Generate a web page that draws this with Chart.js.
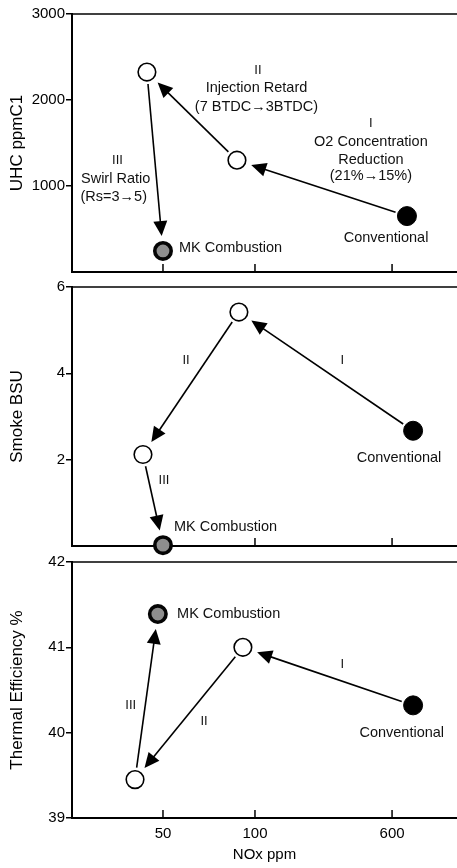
<!DOCTYPE html>
<html><head><meta charset="utf-8">
<script src="https://cdn.jsdelivr.net/npm/chart.js@4.4.1/dist/chart.umd.min.js"></script>
<style>
html,body{margin:0;padding:0;background:#fff;}
#wrap{position:relative;width:457px;height:868px;overflow:hidden;background:#fff;}
canvas{position:absolute;left:0;}
</style></head><body>
<div id="wrap">
<canvas id="c1" width="457" height="290" style="top:0px"></canvas>
<canvas id="c2" width="457" height="300" style="top:265px"></canvas>
<canvas id="c3" width="457" height="328" style="top:540px"></canvas>
</div>
<script>
// ---------- data (order: Conventional, after I, after II, MK Combustion) ----------
const stepNames = ['Conventional', 'I', 'II', 'MK Combustion'];
const noxUHC   = [729, 87.3, 44.3, 50];
const uhcVals  = [650, 1300, 2325, 245];
const noxSmoke = [790, 88.6, 43.0, 50];
const smokeVals = [2.67, 5.42, 2.12, 0.02];
const noxEff   = [790, 91.3, 40.5, 48.1];
const effVals  = [40.32, 41.0, 39.45, 41.39];
const xTickLabels = [50, 100, 600];
const uhcTicks   = [1000, 2000, 3000];
const smokeTicks = [2, 4, 6];
const effTicks   = [39, 40, 41, 42];

// text annotations (x in NOx ppm, y in panel units)
const notesUHC = [
  {t:'II', x:104, y:2349, roman:true},
  {t:'Injection Retard', x:102, y:2140},
  {t:'(7 BTDC\u21923BTDC)', x:102, y:1919},
  {t:'I', x:455, y:1733, roman:true},
  {t:'O2 Concentration', x:455, y:1515},
  {t:'Reduction', x:455, y:1302},
  {t:'(21%\u219215%)', x:455, y:1120},
  {t:'III', x:35.5, y:1302, roman:true},
  {t:'Swirl Ratio', x:35, y:1081},
  {t:'(Rs=3\u21925)', x:34.5, y:876},
  {t:'Conventional', x:555, y:392},
  {t:'MK Combustion', x:56.4, y:276, left:true}
];
const notesSmoke = [
  {t:'II', x:59.5, y:4.31, roman:true},
  {t:'I', x:313, y:4.31, roman:true},
  {t:'Conventional', x:657, y:2.05},
  {t:'III', x:50.4, y:1.51, roman:true},
  {t:'MK Combustion', x:54.3, y:0.45, left:true}
];
const notesEff = [
  {t:'MK Combustion', x:55.6, y:41.39, left:true},
  {t:'I', x:313, y:40.80, roman:true},
  {t:'III', x:39.2, y:40.32, roman:true},
  {t:'II', x:68.1, y:40.13, roman:true},
  {t:'Conventional', x:681, y:40.0}
];

// ---------- broken (piecewise log) NOx axis ----------
const xAnchorPos = [1, 2, 3.49];
function toPos(n){
  if (n < xTickLabels[1]) {
    return xAnchorPos[0] + Math.log(n/xTickLabels[0]) / Math.log(xTickLabels[1]/xTickLabels[0]) * (xAnchorPos[1]-xAnchorPos[0]);
  }
  return xAnchorPos[1] + Math.log(n/xTickLabels[1]) / Math.log(xTickLabels[2]/xTickLabels[1]) * (xAnchorPos[2]-xAnchorPos[1]);
}
const X_MIN = 0.011, X_MAX = 4.196;

const FONT = '"Liberation Sans", Arial, Helvetica, sans-serif';
Chart.defaults.font.family = FONT;
Chart.defaults.color = '#000';

function drawArrow(ctx, p, q){
  const dx = q.x - p.x, dy = q.y - p.y, L = Math.hypot(dx, dy);
  const ux = dx / L, uy = dy / L;
  const sx = p.x + ux * 12, sy = p.y + uy * 12;
  const tx = q.x - ux * 15, ty = q.y - uy * 15;
  const hl = 15, hw = 7;
  const bx = tx - ux * hl, by = ty - uy * hl;
  ctx.beginPath(); ctx.moveTo(sx, sy); ctx.lineTo(bx + ux*2, by + uy*2); ctx.stroke();
  ctx.beginPath();
  ctx.moveTo(tx, ty);
  ctx.lineTo(bx - uy * hw, by + ux * hw);
  ctx.lineTo(bx + uy * hw, by - ux * hw);
  ctx.closePath(); ctx.fill();
}

function makePlugin(notes){
  return {
    id: 'decor',
    beforeDatasetsDraw(chart){
      const {ctx, chartArea: a, scales: {x}} = chart;
      ctx.save();
      ctx.strokeStyle = '#000'; ctx.fillStyle = '#000';
      ctx.lineWidth = 1.6;
      ctx.beginPath(); ctx.moveTo(a.left, a.top); ctx.lineTo(a.right, a.top); ctx.stroke();
      ctx.lineWidth = 2;
      ctx.beginPath(); ctx.moveTo(a.left - 1, a.bottom); ctx.lineTo(a.right, a.bottom); ctx.stroke();
      ctx.lineWidth = 1.5;
      xTickLabels.forEach(v => {
        const px = x.getPixelForValue(toPos(v));
        ctx.beginPath(); ctx.moveTo(px, a.bottom); ctx.lineTo(px, a.bottom - 8); ctx.stroke();
      });
      const meta = chart.getDatasetMeta(0);
      ctx.lineWidth = 1.6;
      for (let i = 0; i < meta.data.length - 1; i++) drawArrow(ctx, meta.data[i], meta.data[i+1]);
      ctx.restore();
    },
    afterDraw(chart){
      const {ctx, scales: {x, y}} = chart;
      ctx.save();
      ctx.fillStyle = '#111';
      ctx.textBaseline = 'middle';
      notes.forEach(n => {
        ctx.font = n.roman ? '13px ' + FONT : '14.5px ' + FONT;
        ctx.textAlign = n.left ? 'left' : 'center';
        ctx.fillText(n.t, x.getPixelForValue(toPos(n.x)), y.getPixelForValue(n.y));
      });
      ctx.restore();
    }
  };
}

function makeChart(id, nox, vals, yMin, yMax, yTicks, yTitle, notes, pad, isBottom){
  return new Chart(document.getElementById(id), {
    type: 'scatter',
    data: {
      datasets: [{
        label: yTitle,
        data: nox.map((n, i) => ({x: toPos(n), y: vals[i]})),
        pointRadius: [9.5, 8.8, 8.8, 8.2],
        pointBorderWidth: [1, 1.6, 1.6, 3.6],
        pointBackgroundColor: ['#000', '#fff', '#fff', '#8e8e8e'],
        pointBorderColor: ['#000', '#000', '#000', '#050505'],
        showLine: false,
        clip: false
      }]
    },
    options: {
      responsive: false,
      animation: false,
      events: [],
      layout: {padding: pad, autoPadding: false},
      plugins: {legend: {display: false}, tooltip: {enabled: false}},
      scales: {
        x: {
          type: 'linear', min: X_MIN, max: X_MAX,
          display: isBottom,
          grid: {display: false, drawTicks: false},
          border: {display: false},
          afterBuildTicks: ax => { ax.ticks = xTickLabels.map(v => ({value: toPos(v)})); },
          ticks: {callback: (v, i) => String(xTickLabels[i]), font: {size: 15}, color: '#000', padding: 7, maxRotation: 0, autoSkip: false},
          title: {display: true, text: 'NOx ppm', font: {size: 15}, color: '#000', padding: {top: 0, bottom: 4}},
          afterFit: s => { s.height = isBottom ? 50 : 0; }
        },
        y: {
          min: yMin, max: yMax,
          afterBuildTicks: ax => { ax.ticks = yTicks.map(v => ({value: v})); },
          ticks: {callback: v => String(v), font: {size: 15}, color: '#000', padding: 1, autoSkip: false},
          grid: {display: true, drawOnChartArea: false, drawTicks: true, tickLength: 6, color: '#000', lineWidth: 1.5},
          border: {display: true, color: '#000', width: 2},
          title: {display: true, text: yTitle, font: {size: 17}, color: '#000', padding: {top: 7, bottom: 0}},
          afterFit: s => { s.width = 72; }
        }
      }
    },
    plugins: [makePlugin(notes)]
  });
}

makeChart('c1', noxUHC, uhcVals, 0, 3000, uhcTicks, 'UHC ppmC1', notesUHC, {top: 14, bottom: 18, left: 0, right: 0}, false);
makeChart('c2', noxSmoke, smokeVals, 0, 6, smokeTicks, 'Smoke BSU', notesSmoke, {top: 22, bottom: 19, left: 0, right: 0}, false);
makeChart('c3', noxEff, effVals, 39, 42, effTicks, 'Thermal Efficiency %', notesEff, {top: 22, bottom: 0, left: 0, right: 0}, true);
</script>
</body></html>
